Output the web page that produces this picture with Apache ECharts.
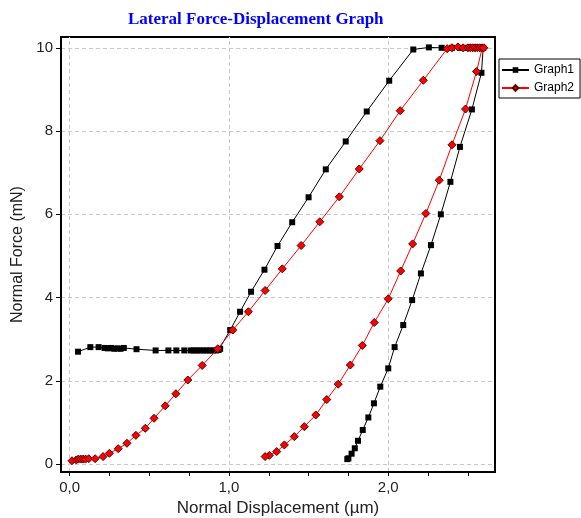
<!DOCTYPE html>
<html>
<head>
<meta charset="utf-8">
<script src="https://cdn.jsdelivr.net/npm/echarts@6/dist/echarts.min.js"></script>
<style>html,body{margin:0;padding:0;background:#fff;}#c{width:581px;height:518px;}</style>
</head>
<body>
<div id="c"></div>
<script>
// ---- data ----
var g1X = [0.053,0.130,0.182,0.22,0.24,0.26,0.28,0.30,0.32,0.34,0.42,0.54,0.62,0.67,0.72,0.76,0.78,0.80,0.82,0.84,0.86,0.88,0.90,0.92,0.935,0.945,
  1.008,1.07,1.139,1.223,1.305,1.397,1.50,1.608,1.733,1.865,2.006,2.157,2.255,2.335,2.40,2.45,2.50,2.54,2.57,2.596,
  2.585,2.525,2.45,2.39,2.33,2.268,2.205,2.15,2.094,2.04,2.0,1.95,1.91,1.875,1.84,1.81,1.79,1.77,1.75,1.743];
var g1Y = [2.70,2.81,2.81,2.79,2.78,2.79,2.77,2.78,2.77,2.79,2.76,2.73,2.73,2.73,2.73,2.73,2.73,2.73,2.73,2.73,2.73,2.73,2.73,2.73,2.74,2.77,
  3.22,3.66,4.14,4.67,5.24,5.81,6.41,7.08,7.75,8.47,9.21,9.96,10.01,10.0,10.0,10.0,10.0,10.0,10.0,10.0,
  9.40,8.52,7.62,6.78,6.00,5.26,4.58,3.94,3.34,2.81,2.30,1.86,1.46,1.12,0.82,0.56,0.38,0.25,0.14,0.12];
var g2X = [0.015,0.042,0.055,0.07,0.085,0.10,0.12,0.16,0.21,0.25,0.305,0.36,0.416,0.475,0.53,0.60,0.667,0.742,0.832,0.93,
  1.024,1.122,1.227,1.335,1.453,1.57,1.693,1.818,1.948,2.075,2.22,2.37,2.40,2.437,2.47,2.50,2.515,2.53,2.545,2.56,2.575,2.59,2.60,
  2.554,2.485,2.40,2.32,2.236,2.153,2.078,2.0,1.912,1.837,1.762,1.686,1.614,1.545,1.473,1.41,1.348,1.30,1.254,1.227];
var g2Y = [0.08,0.10,0.12,0.12,0.12,0.12,0.13,0.13,0.18,0.26,0.37,0.50,0.69,0.86,1.10,1.40,1.69,2.02,2.37,2.77,
  3.22,3.66,4.17,4.69,5.25,5.82,6.42,7.09,7.77,8.49,9.22,9.98,10.0,10.02,10.0,10.0,10.0,10.0,10.0,10.0,10.0,10.0,10.0,
  9.43,8.53,7.67,6.82,6.02,5.29,4.64,3.97,3.40,2.85,2.38,1.92,1.55,1.18,0.90,0.66,0.46,0.30,0.21,0.18];
var xTickLabels = [0, 1, 2];
var xTickMarks = [0, 0.25, 0.5, 0.75, 1, 1.25, 1.5, 1.75, 2, 2.25, 2.5];
var yTickLabels = [0, 2, 4, 6, 8, 10];
var seriesNames = ['Graph1', 'Graph2'];
var titleText = 'Lateral Force-Displacement Graph';
var xName = 'Normal Displacement (µm)';
var yName = 'Normal Force (mN)';

function zip(a, b) { return a.map(function (v, i) { return [v, b[i]]; }); }

var chart = echarts.init(document.getElementById('c'), null, {renderer: 'canvas'});
var gridMarks = xTickLabels.map(function (v) { return {xAxis: v}; })
  .concat(yTickLabels.map(function (v) { return {yAxis: v}; }));

chart.setOption({
  animation: false,
  backgroundColor: '#fff',
  title: {
    text: titleText, left: 123, top: 6,
    textStyle: {fontFamily: 'Liberation Serif', fontWeight: 'bold', fontSize: 17, color: '#0000ff'}
  },
  legend: {
    data: seriesNames, orient: 'vertical', left: 499, top: 59,
    padding: [5, 6, 4, 2], itemGap: 6, itemWidth: 27, itemHeight: 7,
    borderColor: '#000', borderWidth: 1, backgroundColor: '#fff',
    textStyle: {fontFamily: 'Liberation Sans', fontSize: 12, color: '#000'}
  },
  grid: {left: 61, top: 37, right: 86, bottom: 46, outerBoundsMode: 'none', containLabel: false,
    show: true, borderColor: '#000', borderWidth: 2, backgroundColor: '#fff'},
  xAxis: {
    type: 'value', min: -0.054, max: 2.67,
    name: xName, nameLocation: 'middle', nameGap: 25,
    nameTextStyle: {fontFamily: 'Liberation Sans', fontSize: 17, color: '#222'},
    axisLine: {onZero: false, lineStyle: {color: '#000', width: 2}},
    axisTick: {customValues: xTickMarks, length: 4, lineStyle: {color: '#000', width: 1}},
    axisLabel: {customValues: xTickLabels, margin: 8, fontFamily: 'Liberation Sans', fontSize: 15, color: '#222',
      formatter: function (v) { return v.toFixed(1).replace('.', ','); }},
    splitLine: {show: false}
  },
  yAxis: {
    type: 'value', min: -0.19, max: 10.26,
    name: yName, nameLocation: 'middle', nameGap: 31,
    nameTextStyle: {fontFamily: 'Liberation Sans', fontSize: 16, color: '#222'},
    axisLine: {onZero: false, lineStyle: {color: '#000', width: 2}},
    axisTick: {customValues: yTickLabels, length: 5, lineStyle: {color: '#000', width: 1}},
    axisLabel: {customValues: yTickLabels, margin: 8, fontFamily: 'Liberation Sans', fontSize: 15, color: '#222'},
    splitLine: {show: false}
  },
  series: [
    {
      name: '_grid', type: 'line', data: [], z: 0, silent: true,
      markLine: {silent: true, z: 0, symbol: ['none', 'none'], label: {show: false}, animation: false,
        lineStyle: {type: [4, 3], color: '#c8c8c8', width: 1}, data: gridMarks}
    },
    {
      name: seriesNames[0], type: 'line', data: zip(g1X, g1Y), z: 3,
      symbol: 'rect', symbolSize: 6,
      lineStyle: {color: '#000', width: 1}, itemStyle: {color: '#000'}
    },
    {
      name: seriesNames[1], type: 'line', data: zip(g2X, g2Y), z: 4,
      symbol: 'diamond', symbolSize: 8,
      lineStyle: {color: '#ff0000', width: 1}, itemStyle: {color: '#ff0000', borderColor: '#550000', borderWidth: 1}
    }
  ]
});
</script>
</body>
</html>
